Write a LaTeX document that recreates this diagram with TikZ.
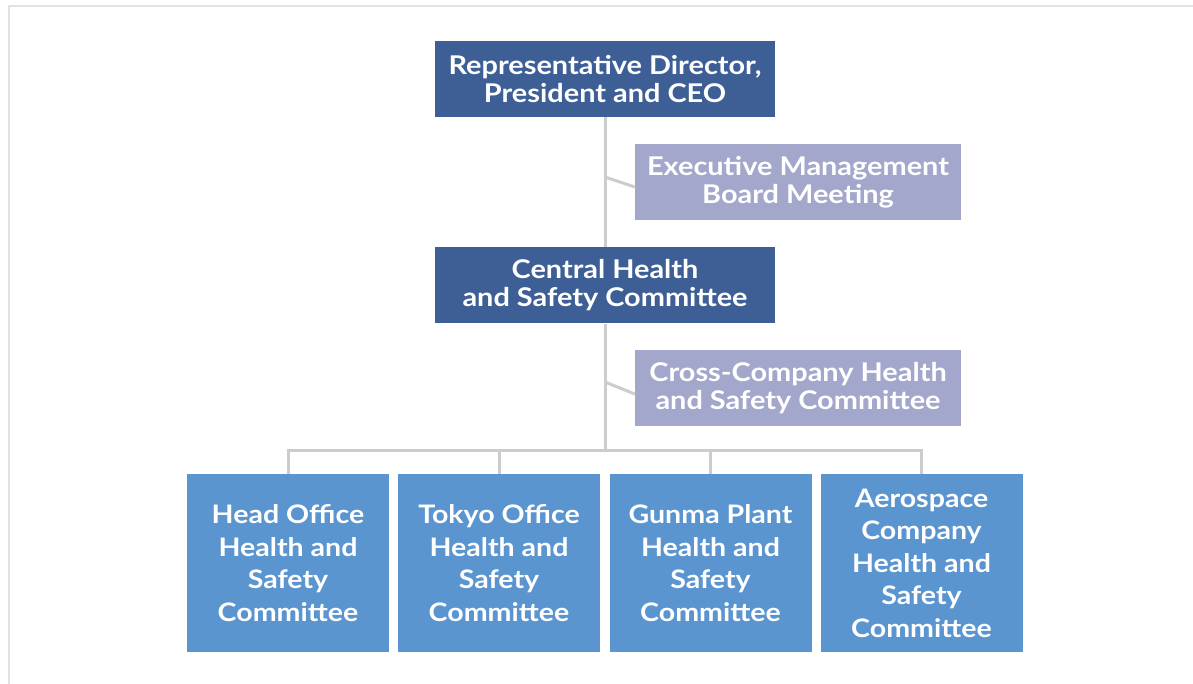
\documentclass[tikz,border=0pt]{standalone}
\usepackage{fontspec}
\setmainfont{Lato}[FakeStretch=1.12]
\definecolor{darkbox}{HTML}{3D5F96}
\definecolor{lavbox}{HTML}{A3A7CB}
\definecolor{bluebox}{HTML}{5A95D0}
\definecolor{conn}{HTML}{CCCCCC}
\definecolor{frame}{HTML}{E2E2E2}
\tikzset{
  box/.style={rectangle, inner sep=0pt, align=center, text=white, font=\fontsize{25.8}{28}\selectfont\bfseries},
  topbox/.style={box, fill=darkbox, minimum width=340, minimum height=76},
  sidebox/.style={box, fill=lavbox, minimum width=326, minimum height=76},
  unitbox/.style={box, fill=bluebox, minimum width=202, minimum height=178, font=\fontsize{25.5}{32.5}\selectfont\bfseries},
  link/.style={draw=conn, line width=3}
}
\begin{document}
\begin{tikzpicture}[x=1pt,y=-1pt]
\useasboundingbox (0,0) rectangle (1193,684);
\draw[frame, line width=2.2] (9,684) -- (9,6) -- (1193,6);
\node[topbox] (ceo) at (605,79) {Representative Director,\\President and CEO};
\node[sidebox] (exec) at (798,182) {Executive Management\\Board Meeting};
\node[topbox] (central) at (605,285.5) {Central Health\\and Safety Committee};
\node[sidebox] (cross) at (798,388) {Cross-Company Health\\and Safety Committee};
\node[unitbox] (head) at (288,563) {Head Office\\Health and\\Safety\\Committee};
\node[unitbox] (tokyo) at (499,563) {Tokyo Office\\Health and\\Safety\\Committee};
\node[unitbox] (gunma) at (710.5,563) {Gunma Plant\\Health and\\Safety\\Committee};
\node[unitbox] (aero) at (921.5,563) {Aerospace\\Company\\Health and\\Safety\\Committee};
\coordinate (bus) at (605,450);
\draw[link] (ceo.south) -- (central.north);
\draw[link] (ceo.south |- exec.west) ++(0,-5) -- ([yshift=-5]exec.west);
\draw[link] (central.south) -- (bus);
\draw[link] (central.south |- cross.west) ++(0,-6) -- ([yshift=-6]cross.west);
\draw[link] (head.north) -- (head.north |- bus) -- (aero.north |- bus) -- (aero.north);
\draw[link] (tokyo.north) -- (tokyo.north |- bus);
\draw[link] (gunma.north) -- (gunma.north |- bus);
\end{tikzpicture}
\end{document}
